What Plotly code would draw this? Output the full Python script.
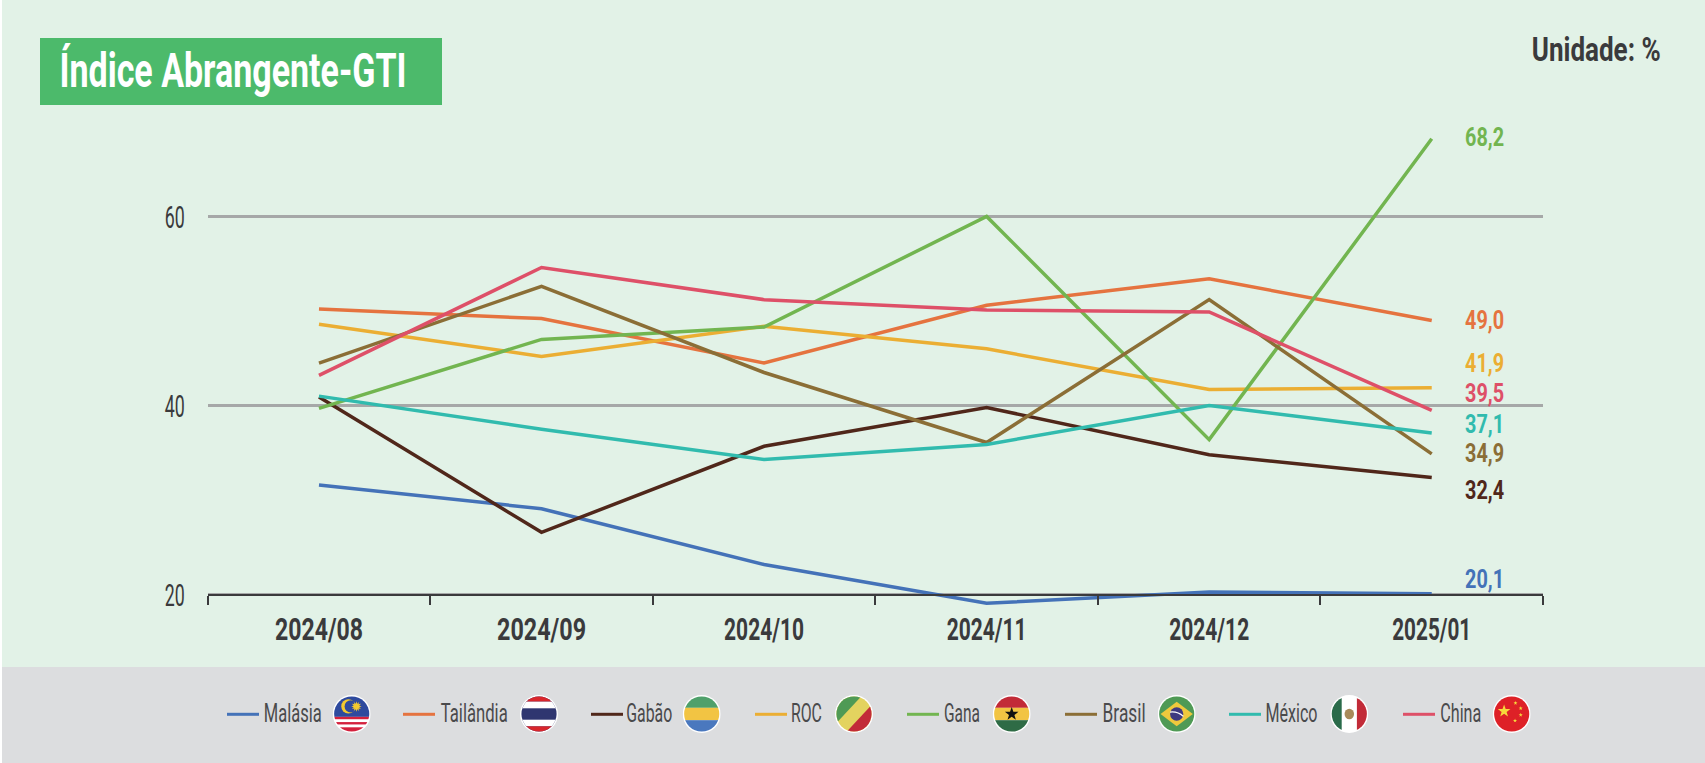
import json
import math
from urllib.parse import quote

import plotly.graph_objects as go

W, H = 1705, 763

months = ["2024/08", "2024/09", "2024/10", "2024/11", "2024/12", "2025/01"]
names = ["Malásia", "Tailândia", "Gabão", "ROC", "Gana", "Brasil", "México", "China"]
malasia = [31.6, 29.1, 23.2, 19.1, 20.3, 20.1]
tailandia = [50.2, 49.2, 44.5, 50.6, 53.4, 49.0]
gabao = [40.9, 26.6, 35.7, 39.8, 34.8, 32.4]
roc = [48.6, 45.2, 48.4, 46.0, 41.7, 41.9]
gana = [39.7, 47.0, 48.3, 60.0, 36.4, 68.2]
brasil = [44.5, 52.6, 43.5, 36.1, 51.2, 34.9]
mexico = [41.0, 37.5, 34.3, 35.9, 40.0, 37.1]
china = [43.2, 54.6, 51.2, 50.1, 49.9, 39.5]
series = [malasia, tailandia, gabao, roc, gana, brasil, mexico, china]
colors = ["#4472B8", "#E5733F", "#50271A", "#EBAE33", "#72B550", "#8B6E36", "#31BBAE", "#DE5068"]
end_labels = ["20,1", "49,0", "32,4", "41,9", "68,2", "34,9", "37,1", "39,5"]

# layout positions, in page pixels
label_y = [579, 320, 490, 363, 137, 453, 424, 392.5]
legend_line_x = [227, 403, 591, 755, 907, 1065, 1229, 1403]
legend_text_x = [293, 473.5, 649.5, 806, 962, 1123.5, 1291, 1460.5]
legend_flag_x = [351.7, 539, 701.7, 854, 1011.7, 1176.7, 1349.3, 1511.7]
legend_text_w = [58, 67, 46, 31, 36, 43, 52, 41]
month_text_w = [88, 89, 80, 80, 80, 79]

FONT = "Roboto"
DARK = "#3A3A3C"


def px(x):
    return x / W


def py(y):
    return 1 - y / H


def svg(body):
    s = ('<svg xmlns="http://www.w3.org/2000/svg" width="80" height="80" viewBox="0 0 80 80">'
         '<defs><clipPath id="c"><circle cx="40" cy="40" r="37"/></clipPath></defs>'
         '<circle cx="40" cy="40" r="40" fill="#fff"/><g clip-path="url(#c)">' + body + '</g></svg>')
    return "data:image/svg+xml," + quote(s)


def star(cx, cy, r, fill, n=5, inner=0.4):
    pts = []
    for i in range(2 * n):
        a = -math.pi / 2 + i * math.pi / n
        q = r if i % 2 == 0 else r * inner
        pts.append(f"{cx + q * math.cos(a):.1f},{cy + q * math.sin(a):.1f}")
    return f'<polygon points="{" ".join(pts)}" fill="{fill}"/>'


flags = [
    svg('<rect width="80" height="80" fill="#fff"/><rect width="80" height="46" fill="#2E4A9E"/>'
        '<rect y="46" width="80" height="5" fill="#D4213D"/><rect y="57" width="80" height="5" fill="#D4213D"/>'
        '<rect y="68" width="80" height="12" fill="#D4213D"/>'
        '<circle cx="33" cy="24" r="15" fill="#F3C92F"/><circle cx="38" cy="24" r="13" fill="#2E4A9E"/>'
        + star(50, 24, 11, "#F3C92F", n=12, inner=0.55)),
    svg('<rect width="80" height="80" fill="#2F3670"/><rect width="80" height="14" fill="#D9262C"/>'
        '<rect y="14" width="80" height="14" fill="#fff"/><rect y="52" width="80" height="14" fill="#fff"/>'
        '<rect y="66" width="80" height="14" fill="#D9262C"/>'),
    svg('<rect width="80" height="27" fill="#4FA06B"/><rect y="27" width="80" height="26" fill="#F2C443"/>'
        '<rect y="53" width="80" height="27" fill="#4A78BE"/>'),
    svg('<rect width="80" height="80" fill="#E3D35F"/><polygon points="0,0 58,0 0,62" fill="#4F9A55"/>'
        '<polygon points="80,18 80,80 22,80" fill="#C22B38"/>'),
    svg('<rect width="80" height="27" fill="#C22B38"/><rect y="27" width="80" height="26" fill="#F2C443"/>'
        '<rect y="53" width="80" height="27" fill="#2E6B45"/>' + star(40, 40, 15, "#111")),
    svg('<rect width="80" height="80" fill="#4F9A55"/><polygon points="40,14 74,40 40,66 6,40" fill="#EFC93D"/>'
        '<circle cx="40" cy="40" r="14" fill="#3F3A80"/>'
        '<path d="M26 36 Q42 34 54 45" stroke="#fff" stroke-width="2.5" fill="none"/>'),
    svg('<rect width="80" height="80" fill="#fff"/><rect width="24" height="80" fill="#2A6B4A"/>'
        '<rect x="56" width="24" height="80" fill="#C22B38"/>'
        '<ellipse cx="40" cy="40" rx="10" ry="11" fill="#A88A5A"/>'),
    svg('<rect width="80" height="80" fill="#DE2127"/>' + star(24, 34, 14, "#F6D93B")
        + star(48, 17, 4.5, "#F6D93B") + star(59, 28, 4.5, "#F6D93B")
        + star(59, 42, 4.5, "#F6D93B") + star(47, 54, 4.5, "#F6D93B")),
]

# horizontal width of every text in the reference: the installed fonts are wider than its condensed face
text_widths = {"Índice Abrangente-GTI": 347, "Unidade: %": 129, "20": 20, "40": 20, "60": 20}
text_widths.update(dict(zip(months, month_text_w)))
text_widths.update({t: 39 for t in end_labels})
text_widths.update(dict(zip(names, legend_text_w)))

fig = go.Figure()
for name, vals, col in zip(names, series, colors):
    fig.add_trace(go.Scatter(x=months, y=vals, mode="lines", name=name,
                             line=dict(color=col, width=3.5), showlegend=False))

shapes = [
    dict(type="rect", xref="paper", yref="paper", x0=0, x1=1, y0=0, y1=py(667),
         fillcolor="#DCDDDF", line_width=0, layer="below"),
    dict(type="rect", xref="paper", yref="paper", x0=0, x1=px(2), y0=0, y1=1,
         fillcolor="#FFFFFF", line_width=0, layer="below"),
    dict(type="rect", xref="paper", yref="paper", x0=px(40), x1=px(442), y0=py(105), y1=py(38),
         fillcolor="#4CBA6B", line_width=0, layer="below"),
]
annotations = [
    dict(text="Índice Abrangente-GTI", xref="paper", yref="paper", x=px(233), y=py(70),
         xanchor="center", yanchor="middle", showarrow=False,
         font=dict(family=FONT, size=48, color="#FFFFFF", weight="bold")),
    dict(text="Unidade: %", xref="paper", yref="paper", x=px(1596), y=py(49),
         xanchor="center", yanchor="middle", showarrow=False,
         font=dict(family=FONT, size=34, color=DARK, weight="bold")),
]
images = []
for i, name in enumerate(names):
    annotations.append(dict(text=end_labels[i], xref="paper", yref="paper", x=px(1484), y=py(label_y[i]),
                            xanchor="center", yanchor="middle", showarrow=False,
                            font=dict(family=FONT, size=26, color=colors[i], weight="bold")))
    lx = legend_line_x[i]
    shapes.append(dict(type="line", xref="paper", yref="paper", x0=px(lx), x1=px(lx + 32), y0=py(714.3), y1=py(714.3),
                       line=dict(color=colors[i], width=3)))
    annotations.append(dict(text=name, xref="paper", yref="paper", x=px(legend_text_x[i]), y=py(713),
                            xanchor="center", yanchor="middle", showarrow=False,
                            font=dict(family=FONT, size=25, color="#4A4A4C")))
    images.append(dict(source=flags[i], xref="paper", yref="paper", x=px(legend_flag_x[i]), y=py(714),
                       sizex=38 / W, sizey=38 / H, xanchor="center", yanchor="middle",
                       sizing="stretch", layer="above"))

PER_UNIT = 9.46
AXIS_Y = 594.8
TOP, BOTTOM = 100, 612
fig.update_layout(
    width=W, height=H, paper_bgcolor="#E2F2E7", plot_bgcolor="rgba(0,0,0,0)",
    margin=dict(l=0, r=0, t=0, b=0, autoexpand=False), showlegend=False,
    shapes=shapes, annotations=annotations, images=images,
    xaxis=dict(domain=[px(207.7), px(1543)], type="category", range=[-0.5, 5.5], tickson="boundaries",
               anchor="free", position=py(AXIS_Y), ticks="outside", ticklen=9,
               tickcolor=DARK, tickwidth=1.5, showline=True, linecolor=DARK, linewidth=1.5, showgrid=False,
               ticklabelstandoff=6, tickfont=dict(family=FONT, size=32, color=DARK, weight="bold")),
    yaxis=dict(domain=[py(BOTTOM), py(TOP)],
               range=[20 - (BOTTOM - AXIS_Y) / PER_UNIT, 20 + (AXIS_Y - TOP) / PER_UNIT],
               tickvals=[20, 40, 60], ticks="", showline=False, showgrid=True, gridcolor="#A6A8A8", gridwidth=2.5,
               zeroline=False, ticklabelstandoff=22, tickfont=dict(family=FONT, size=32, color=DARK)),
)

condense = """
var widths = %s;
document.body.style.margin = '0';
document.querySelectorAll('.main-svg text').forEach(function (t) {
  var w = widths[t.textContent.trim()];
  if (w) { t.setAttribute('textLength', w); t.setAttribute('lengthAdjust', 'spacingAndGlyphs'); }
});
""" % json.dumps(text_widths, ensure_ascii=False)

fig.write_html("out.html", config={"displayModeBar": False}, post_script=condense)
